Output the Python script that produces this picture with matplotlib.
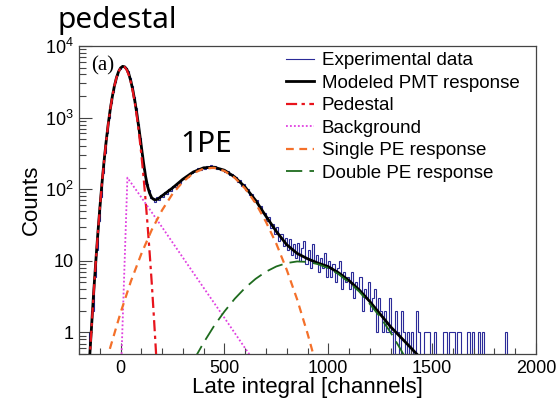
import numpy as np
import matplotlib
matplotlib.use('Agg')
import matplotlib.pyplot as plt
from matplotlib.lines import Line2D
from matplotlib.ticker import FixedLocator, LogLocator, NullFormatter

plt.rcParams['font.family'] = ['Liberation Sans', 'DejaVu Sans']
plt.rcParams['mathtext.default'] = 'regular'

# experimental histogram, 10 channel bins from -200 to 1900
bin_edges = np.arange(-200, 1901, 10)
counts = [
    0, 0, 0, 0, 0, 1, 2, 6, 14, 36,
    77, 170, 322, 610, 995, 1610, 2290, 3180, 3950, 4730,
    5080, 5270, 4940, 4480, 3590, 2800, 1950, 1350, 820, 525,
    300, 194, 118, 97, 75, 76, 66, 78, 71, 83,
    78, 92, 86, 101, 95, 112, 108, 124, 123, 140,
    137, 155, 150, 170, 166, 181, 178, 195, 186, 204,
    194, 212, 199, 215, 197, 208, 193, 201, 186, 190,
    176, 180, 159, 165, 146, 150, 128, 133, 112, 117,
    97, 101, 82, 85, 68, 71, 55, 58, 46, 47,
    36, 41, 29, 33, 24, 30, 19, 24, 16, 21,
    14, 20, 12, 17, 11, 18, 10, 15, 19, 9,
    14, 8, 17, 10, 12, 7, 11, 8, 13, 6,
    10, 6, 9, 5, 8, 10, 4, 7, 5, 6,
    4, 7, 3, 5, 4, 6, 2, 4, 3, 5,
    2, 3, 4, 1, 3, 2, 1, 2, 1, 3,
    1, 0, 2, 1, 0, 2, 1, 0, 1, 0,
    1, 0, 2, 1, 0, 0, 1, 1, 1, 0,
    0, 1, 0, 0, 0, 1, 1, 0, 1, 1,
    1, 0, 1, 1, 0, 0, 0, 1, 0, 1,
    0, 0, 1, 0, 1, 0, 0, 0, 0, 0,
    0, 0, 0, 0, 0, 1, 0, 0, 0, 0,
]

# modeled PMT response (sum of components)
model_x = [-150, -140, -130, -120, -110, -100, -90, -80, -70, -60, -50, -40, -30, -20, -10,
           0, 10, 20, 30, 40, 50, 60, 70, 80, 90, 100, 110, 120, 130, 140, 150, 160, 170,
           180, 200, 250, 300, 350, 400, 450, 500, 550, 600, 650, 700, 750, 800, 850, 900,
           950, 1000, 1050, 1100, 1150, 1200, 1250, 1300, 1350, 1400, 1450]
model_y = [0.39, 1.15, 3.4, 9.1, 22.7, 53, 116, 236, 446, 784, 1278, 1937, 2731, 3581, 4362,
           4932, 5194, 5113, 4734, 4051, 3199, 2358, 1629, 1063, 660, 398, 241, 154, 110, 88, 76, 72, 71,
           73, 81, 104, 138, 174, 199, 203, 184, 148, 107, 70, 42, 25.7, 16.8, 12.7, 10.7,
           9.3, 8.3, 6.8, 5.3, 3.9, 2.7, 1.8, 1.2, 0.85, 0.6, 0.42]

# pedestal
ped_x = [-150, -140, -130, -120, -110, -100, -90, -80, -70, -60, -50, -40, -30, -20, -10,
         0, 10, 20, 30, 40, 50, 60, 70, 80, 90, 100, 110, 120, 130, 140, 150, 160, 170, 180]
ped_y = [0.35, 1.12, 3.3, 8.95, 22.6, 53, 116, 236, 446, 783, 1277, 1936, 2730, 3580, 4360,
         4930, 5190, 5080, 4620, 3910, 3070, 2240, 1520, 961, 565, 308, 156, 73, 32, 13, 5.0, 1.74, 0.57, 0.17]

# background
bkg_x = [5, 33, 100, 200, 300, 400, 500, 600, 640]
bkg_y = [0.5, 145, 77, 29.5, 11.1, 4.2, 1.6, 0.6, 0.41]

# single PE response
spe_x = [-100, -50, 0, 50, 100, 150, 200, 250, 300, 350, 400, 450, 500, 550, 600,
         650, 700, 750, 800, 850, 900, 950, 1000]
spe_y = [0.17, 0.61, 1.88, 5.2, 12.5, 27, 51, 86, 127, 167, 194, 199, 180, 144, 102,
         64, 35, 17.3, 7.5, 2.9, 0.97, 0.29, 0.08]

# double PE response
dpe_x = [300, 350, 400, 450, 500, 550, 600, 650, 700, 750, 800, 850, 900, 950, 1000,
         1050, 1100, 1150, 1200, 1250, 1300, 1350, 1400, 1450]
dpe_y = [0.21, 0.40, 0.72, 1.23, 1.96, 2.96, 4.2, 5.6, 7.05, 8.35, 9.3, 9.8, 9.65, 9.0, 7.9,
         6.5, 5.0, 3.7, 2.5, 1.64, 1.0, 0.57, 0.31, 0.16]

labels = ['Experimental data', 'Modeled PMT response', 'Pedestal', 'Background',
          'Single PE response', 'Double PE response']

c_data = '#2b2b98'
c_ped = '#e8141c'
c_bkg = '#e040e0'
c_spe = '#f4702a'
c_dpe = '#1e6b1e'

fig = plt.figure(figsize=(5.58, 4.03), dpi=100)
ax = fig.add_axes([79 / 558, 1 - 354 / 403, (536 - 79) / 558, (354 - 46) / 403])

vals = np.array(counts, dtype=float)
vals = np.where(vals > 0, vals, 1e-3)
ax.stairs(vals, bin_edges, color=c_data, lw=0.8, baseline=None)

ax.plot(model_x, model_y, color='black', lw=2.0, zorder=3)
ax.plot(ped_x, ped_y, color=c_ped, lw=1.6, dashes=(5, 2, 1.5, 2), zorder=4)
ax.plot(bkg_x, bkg_y, color=c_bkg, lw=1.3, dashes=(1, 1.2), zorder=4)
ax.plot(spe_x, spe_y, color=c_spe, lw=1.6, dashes=(3.5, 2.5), zorder=4)
ax.plot(dpe_x, dpe_y, color=c_dpe, lw=1.3, dashes=(9, 4), zorder=4)

ax.set_yscale('log')
ax.set_xlim(-200, 2000)
ax.set_ylim(0.5, 1e4)

ax.xaxis.set_major_locator(FixedLocator([0, 500, 1000, 1500, 2000]))
ax.xaxis.set_minor_locator(FixedLocator(list(range(-200, 2001, 100))))
ax.set_xticklabels(['0', '500', '1000', '1500', '2000'])
ax.yaxis.set_major_locator(FixedLocator([1, 10, 100, 1000, 10000]))
ax.set_yticklabels(['1', '10', r'$10^{2}$', r'$10^{3}$', r'$10^{4}$'])
ax.yaxis.set_minor_locator(LogLocator(base=10, subs=np.arange(2, 10)))
ax.yaxis.set_minor_formatter(NullFormatter())

ax.tick_params(axis='both', which='both', direction='in', labelsize=13, color='#444444')
ax.tick_params(axis='x', which='major', length=8, width=0.8, pad=4)
ax.tick_params(axis='x', which='minor', length=4, width=0.8)
ax.tick_params(axis='y', which='major', length=9, width=0.8, pad=4)
ax.tick_params(axis='y', which='minor', length=5, width=0.8)
for s in ax.spines.values():
    s.set_color('#444444')
    s.set_linewidth(0.9)

ax.set_xlabel('Late integral [channels]', fontsize=16, labelpad=0)
ax.set_ylabel('Counts', fontsize=16, labelpad=2)

fig.text(91 / 558, 1 - 66 / 403, '(a)', family='Liberation Serif', fontsize=15, va='center', ha='left')

handles = [
    Line2D([], [], color=c_data, lw=0.8),
    Line2D([], [], color='black', lw=2.0),
    Line2D([], [], color=c_ped, lw=1.6, dashes=(5, 2, 1.5, 2)),
    Line2D([], [], color=c_bkg, lw=1.3, dashes=(1, 1.2)),
    Line2D([], [], color=c_spe, lw=1.6, dashes=(3.5, 2.5)),
    Line2D([], [], color=c_dpe, lw=1.3, dashes=(9, 4)),
]
fig.legend(handles, labels, loc='upper left', bbox_to_anchor=(286 / 558, 1 - 52 / 403),
           frameon=False, fontsize=13.5, handlelength=1.5, handletextpad=0.4,
           labelspacing=0.29, borderpad=0, borderaxespad=0)

fig.text(58 / 558, 1 - 28 / 403, 'pedestal', family='Noto Sans', fontsize=21.5, va='baseline', ha='left')
fig.text(180 / 558, 1 - 152 / 403, '1PE', family='Noto Sans', fontsize=21.5, va='baseline', ha='left')

fig.savefig('out.png', dpi=100)
